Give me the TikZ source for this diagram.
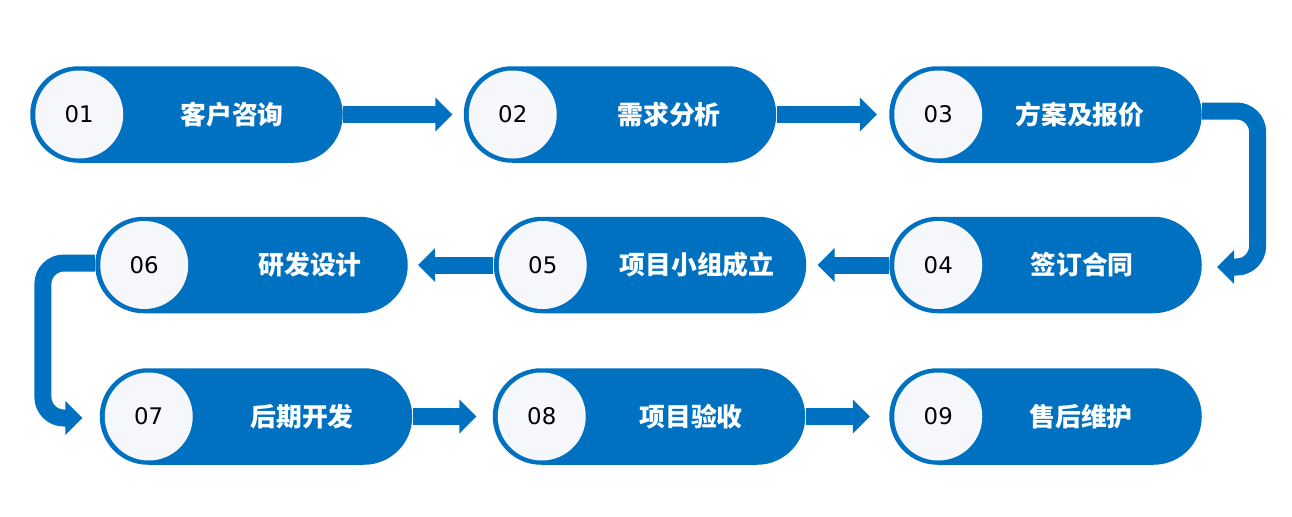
\documentclass[tikz,border=0pt]{standalone}
\usepackage{fontspec}
\setmainfont{DejaVu Sans}
\newfontfamily\cjk{Noto Sans CJK SC}
\usepackage{xcolor}
\usepackage{tikz}
\usetikzlibrary{arrows.meta, positioning, calc}
\definecolor{flowblue}{HTML}{0070C0}
\definecolor{discgray}{HTML}{F5F7FA}
\tikzset{
    pill/.style={rectangle, fill=flowblue, minimum width=6.25cm, minimum height=1.93cm, rounded corners=0.965cm, inner sep=0pt},
    disc/.style={circle, fill=discgray, minimum size=1.76cm, inner sep=0pt, text=black, font=\fontsize{13pt}{15pt}\selectfont},
    pilltext/.style={text=white, inner sep=0pt, font=\cjk\bfseries\fontsize{14.7pt}{17pt}\selectfont},
    flow/.style={draw=flowblue, line width=0.34cm, -{Triangle[length=0.34cm, width=0.66cm]}},
    bendflow/.style={flow, rounded corners=0.42cm}
}

\begin{document}
\begin{tikzpicture}
    \useasboundingbox (0,0) rectangle (25.84,10.32);

    \node [pill] (s1) at (3.73,8.03) {};
    \node [pill] (s2) at (12.40,8.03) {};
    \node [pill] (s3) at (20.91,8.03) {};
    \node [pill] (s4) at (20.91,5.02) {};
    \node [pill] (s5) at (13.00,5.02) {};
    \node [pill] (s6) at (5.03,5.02) {};
    \node [pill] (s7) at (5.12,1.99) {};
    \node [pill] (s8) at (12.98,1.99) {};
    \node [pill] (s9) at (20.91,1.99) {};

    \node [disc, right=0.1cm of s1.west] (n1) {01};
    \node [disc, right=0.1cm of s2.west] (n2) {02};
    \node [disc, right=0.1cm of s3.west] (n3) {03};
    \node [disc, right=0.1cm of s4.west] (n4) {04};
    \node [disc, right=0.1cm of s5.west] (n5) {05};
    \node [disc, right=0.1cm of s6.west] (n6) {06};
    \node [disc, right=0.1cm of s7.west] (n7) {07};
    \node [disc, right=0.1cm of s8.west] (n8) {08};
    \node [disc, right=0.1cm of s9.west] (n9) {09};

    \node [pilltext] (t1) at (4.64,8.03) {客户咨询};
    \node [pilltext] (t2) at (13.38,8.03) {需求分析};
    \node [pilltext] (t3) at (21.60,8.03) {方案及报价};
    \node [pilltext] (t4) at (21.64,5.02) {签订合同};
    \node [pilltext] (t5) at (13.94,5.02) {项目小组成立};
    \node [pilltext] (t6) at (6.20,5.02) {研发设计};
    \node [pilltext] (t7) at (6.04,1.99) {后期开发};
    \node [pilltext] (t8) at (13.82,1.99) {项目验收};
    \node [pilltext] (t9) at (21.62,1.99) {售后维护};

    \draw [flow, shorten >=0.22cm] (s1.east) -- (s2.west);
    \draw [flow, shorten >=0.24cm] (s2.east) -- (s3.west);
    \draw [bendflow] ([yshift=0.07cm]s3.east) -- ++(1.11cm,0) |- ([xshift=0.3cm, yshift=-0.04cm]s4.east);
    \draw [flow, shorten >=0.22cm] (s4.west) -- (s5.east);
    \draw [flow, shorten >=0.2cm] (s5.west) -- (s6.east);
    \draw [bendflow] ([yshift=0.04cm]s6.west) -- ++(-1.04cm,0) |- ([xshift=-0.34cm, yshift=-0.03cm]s7.west);
    \draw [flow, shorten >=0.32cm] (s7.east) -- (s8.west);
    \draw [flow, shorten >=0.38cm] (s8.east) -- (s9.west);
\end{tikzpicture}
\end{document}
